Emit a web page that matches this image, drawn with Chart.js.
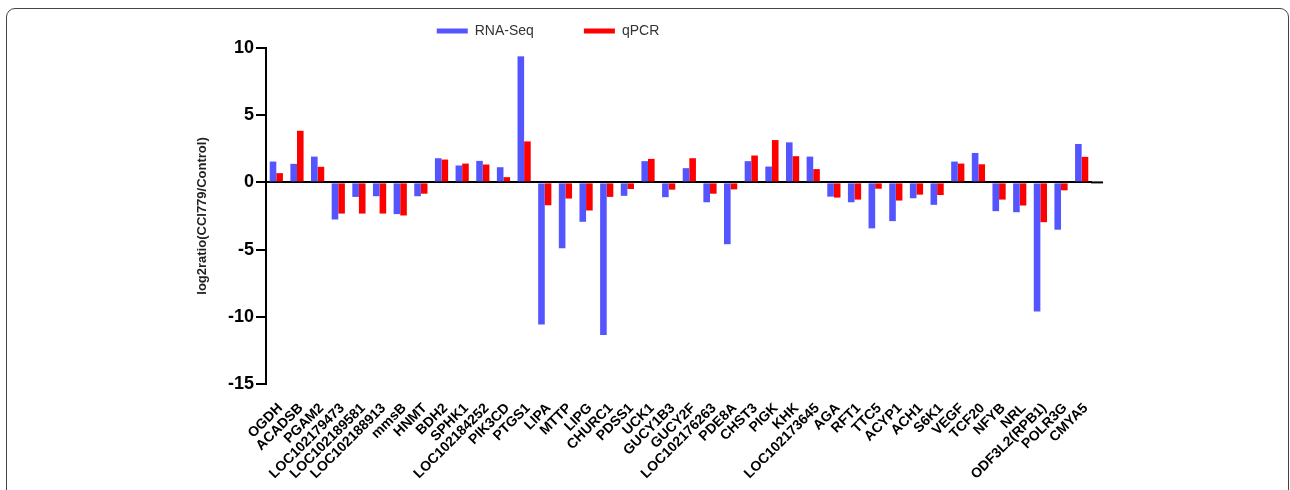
<!DOCTYPE html>
<html>
<head>
<meta charset="utf-8">
<script src="https://cdn.jsdelivr.net/npm/chart.js@4.4.1/dist/chart.umd.min.js"></script>
<style>
  html, body { margin: 0; padding: 0; background: #fff; }
  body { width: 1290px; height: 490px; overflow: hidden; position: relative; }
  .card {
    position: absolute; left: 6px; top: 8px; width: 1283px; height: 600px;
    border: 1.5px solid #444; border-radius: 9px; box-sizing: border-box;
  }
  #chart { position: absolute; left: 0; top: 0; }
</style>
</head>
<body>
<div class="card"></div>
<canvas id="chart" width="1290" height="490"></canvas>
<script>
// Genes on the x axis
const genes = [
  "OGDH", "ACADSB", "PGAM2", "LOC102179473", "LOC102189581", "LOC102188913",
  "mmsB", "HNMT", "BDH2", "SPHK1", "LOC102184252", "PIK3CD", "PTGS1", "LIPA",
  "MTTP", "LIPG", "CHURC1", "PDSS1", "UCK1", "GUCY1B3", "GUCY2F",
  "LOC102176263", "PDE8A", "CHST3", "PIGK", "KHK", "LOC102173645", "AGA",
  "RFT1", "TTC5", "ACYP1", "ACH1", "S6K1", "VEGF", "TCF20", "NFYB", "NRL",
  "ODF3L2(RPB1)", "POLR3G", "CMYA5",
];

// log2 ratios
const rnaSeq = [
  1.55, 1.38, 1.92, -2.76, -1.08, -1.03, -2.36, -1.03, 1.80, 1.26, 1.60, 1.13,
  9.38, -10.57, -4.90, -2.93, -11.35, -1.00, 1.58, -1.10, 1.06, -1.48, -4.60,
  1.58, 1.18, 2.98, 1.92, -1.06, -1.48, -3.42, -2.88, -1.18, -1.67, 1.55, 2.19,
  -2.14, -2.22, -9.60, -3.52, 2.86,
];
const qpcr = [
  0.69, 3.84, 1.16, -2.32, -2.32, -2.32, -2.46, -0.84, 1.70, 1.40, 1.33, 0.39,
  3.05, -1.70, -1.20, -2.09, -1.08, -0.49, 1.75, -0.54, 1.80, -0.84, -0.52,
  2.00, 3.15, 1.95, 0.99, -1.13, -1.28, -0.47, -1.35, -0.91, -0.94, 1.40, 1.35,
  -1.28, -1.72, -2.96, -0.59, 1.90,
];

const yTicks = [-15, -10, -5, 0, 5, 10];

const FONT = "Arial, 'Liberation Sans', sans-serif";
const BLUE = "#5555ff";
const RED = "#ff0000";

// The zero baseline in the figure runs a little past the last bar group.
const zeroLineTail = {
  id: "zeroLineTail",
  afterDatasetsDraw(chart) {
    const { ctx, chartArea, scales } = chart;
    const y = scales.y.getPixelForValue(0);
    ctx.save();
    ctx.strokeStyle = "#000";
    ctx.lineWidth = 2;
    ctx.beginPath();
    ctx.moveTo(chartArea.right - 1, y);
    ctx.lineTo(chartArea.right + 11, y);
    ctx.stroke();
    ctx.restore();
  },
};

new Chart(document.getElementById("chart"), {
  type: "bar",
  data: {
    labels: genes,
    datasets: [
      { label: "RNA-Seq", data: rnaSeq, backgroundColor: BLUE },
      { label: "qPCR", data: qpcr, backgroundColor: RED },
    ],
  },
  plugins: [zeroLineTail],
  options: {
    responsive: false,
    animation: false,
    devicePixelRatio: 1,
    categoryPercentage: 0.64,
    barPercentage: 1.0,
    layout: { padding: { top: -26, left: 4, right: 198, bottom: 0 } },
    plugins: {
      tooltip: { enabled: false },
      legend: {
        position: "top",
        labels: {
          boxWidth: 31,
          boxHeight: 5,
          padding: 50,
          color: "#333",
          font: { family: FONT, size: 14 },
        },
      },
    },
    scales: {
      x: {
        border: { display: false },
        grid: { display: false },
        afterFit: (s) => { s.height = 106; },
        ticks: {
          autoSkip: false,
          maxRotation: 45,
          minRotation: 45,
          padding: 8,
          labelOffset: 4,
          color: "#000",
          font: { family: FONT, size: 14, weight: "bold" },
        },
      },
      y: {
        min: -15,
        max: 10,
        afterFit: (s) => { s.width = 262; },
        afterBuildTicks: (s) => { s.ticks = yTicks.map((v) => ({ value: v })); },
        border: { display: true, color: "#000", width: 2 },
        grid: {
          drawOnChartArea: true,
          color: (ctx) => (ctx.tick && ctx.tick.value === 0 ? "#000" : "rgba(0,0,0,0)"),
          lineWidth: 2,
          tickColor: "#000",
          tickLength: 10,
        },
        ticks: {
          padding: 2,
          color: "#000",
          font: { family: FONT, size: 18, weight: "bold" },
        },
        title: {
          display: true,
          text: "log2ratio(CCl779/Control)",
          color: "#222",
          padding: { top: 191, bottom: 0 },
          font: { family: FONT, size: 13, weight: "bold" },
        },
      },
    },
  },
});
</script>
</body>
</html>
